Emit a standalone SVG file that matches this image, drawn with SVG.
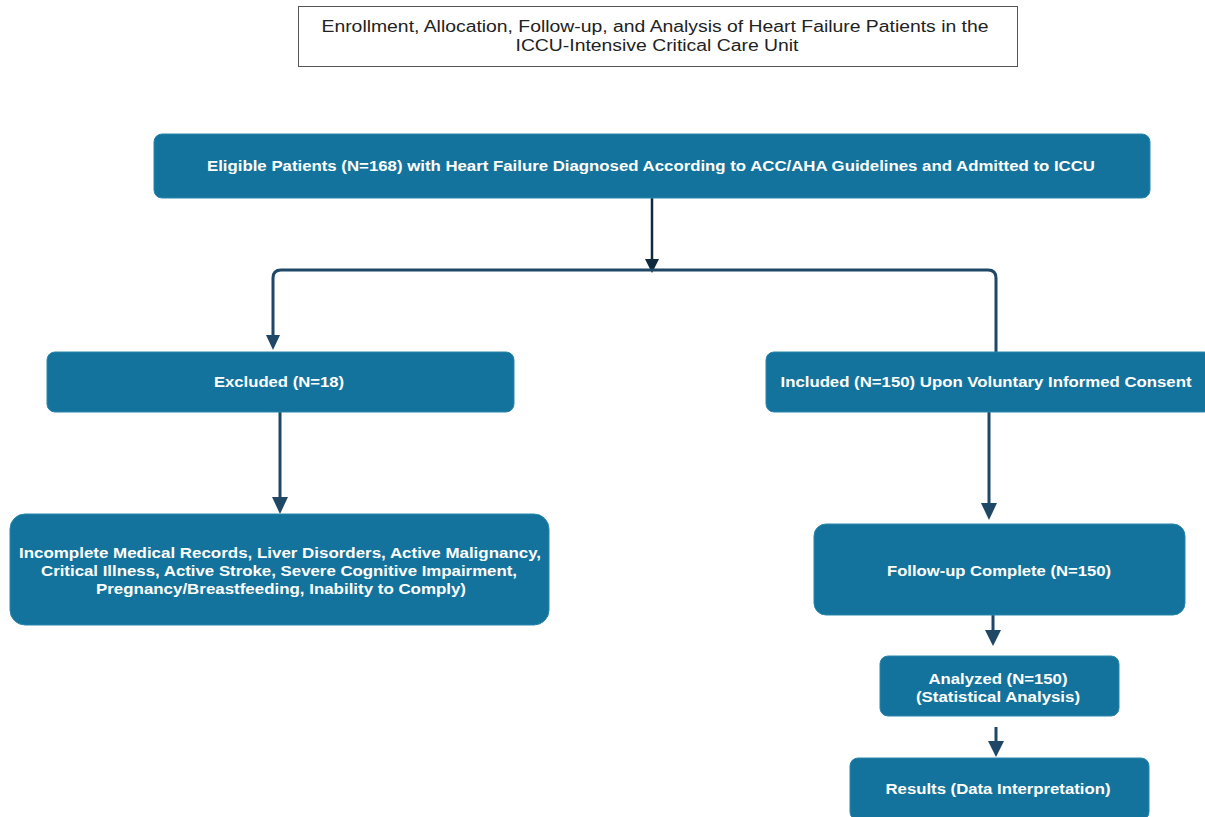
<svg xmlns="http://www.w3.org/2000/svg" width="1205" height="817" viewBox="0 0 1205 817">
<style>
.box{fill:#13739c;stroke:#2a86ad;stroke-width:1}
.t{font-family:"Liberation Sans",Arial,sans-serif;font-weight:bold;font-size:14.5px;fill:#ffffff;text-anchor:middle}
.tt{font-family:"Liberation Sans",Arial,sans-serif;font-weight:bold;font-size:14px;fill:#ffffff;text-anchor:middle}
.title{font-family:"Liberation Sans",Arial,sans-serif;font-size:16px;fill:#222222;text-anchor:middle}
.c{fill:none;stroke:#1f4866;stroke-width:3}
.ah{fill:#1f4866}
</style>
<rect width="1205" height="817" fill="#ffffff"/>
<g id="title">
<rect x="298.5" y="6.5" width="719" height="60" fill="#ffffff" stroke="#555555" stroke-width="1"/>
<text class="title" x="655" y="32" textLength="667" lengthAdjust="spacingAndGlyphs">Enrollment, Allocation, Follow-up, and Analysis of Heart Failure Patients in the</text>
<text class="title" x="657" y="51" textLength="283" lengthAdjust="spacingAndGlyphs">ICCU-Intensive Critical Care Unit</text>
</g>
<g id="connectors">
<line x1="652" y1="198" x2="652" y2="260" stroke="#0f2a3d" stroke-width="2.5"/>
<polygon points="645,259 659,259 652,273" fill="#0f2a3d"/>
<path class="c" d="M273,338 V278 Q273,270 281,270 H988 Q996,270 996,278 V352"/>
<polygon class="ah" points="266,335 280,335 273,350"/>
<line class="c" x1="280" y1="412" x2="280" y2="500"/>
<polygon class="ah" points="272,497 288,497 280,514"/>
<line class="c" x1="989" y1="412" x2="989" y2="506"/>
<polygon class="ah" points="981,503 997,503 989,520"/>
<line class="c" x1="993" y1="615" x2="993" y2="633"/>
<polygon class="ah" points="985,630 1001,630 993,646"/>
<line class="c" x1="996" y1="727" x2="996" y2="744"/>
<polygon class="ah" points="988,741 1004,741 996,757"/>
</g>
<g id="eligible">
<rect class="box" x="154" y="134" width="996" height="64" rx="8"/>
<text class="tt" x="651" y="171" textLength="888" lengthAdjust="spacingAndGlyphs">Eligible Patients (N=168) with Heart Failure Diagnosed According to ACC/AHA Guidelines and Admitted to ICCU</text>
</g>
<g id="excluded">
<rect class="box" x="47" y="352" width="467" height="60" rx="8"/>
<text class="t" x="279" y="387" textLength="130" lengthAdjust="spacingAndGlyphs">Excluded (N=18)</text>
</g>
<g id="included">
<rect class="box" x="766" y="352" width="446" height="60" rx="8"/>
<text class="t" x="986" y="387" textLength="411" lengthAdjust="spacingAndGlyphs">Included (N=150) Upon Voluntary Informed Consent</text>
</g>
<g id="exclusion-reasons">
<rect class="box" x="10" y="514" width="539" height="111" rx="15"/>
<text class="t" x="280" y="558" textLength="522" lengthAdjust="spacingAndGlyphs">Incomplete Medical Records, Liver Disorders, Active Malignancy,</text>
<text class="t" x="279" y="576" textLength="476" lengthAdjust="spacingAndGlyphs">Critical Illness, Active Stroke, Severe Cognitive Impairment,</text>
<text class="t" x="281" y="594" textLength="370" lengthAdjust="spacingAndGlyphs">Pregnancy/Breastfeeding, Inability to Comply)</text>
</g>
<g id="followup">
<rect class="box" x="814" y="524" width="371" height="91" rx="12"/>
<text class="t" x="999" y="576" textLength="224" lengthAdjust="spacingAndGlyphs">Follow-up Complete (N=150)</text>
</g>
<g id="analyzed">
<rect class="box" x="880" y="656" width="239" height="60" rx="8"/>
<text class="t" x="998" y="684" textLength="139" lengthAdjust="spacingAndGlyphs">Analyzed (N=150)</text>
<text class="t" x="998" y="702" textLength="164" lengthAdjust="spacingAndGlyphs">(Statistical Analysis)</text>
</g>
<g id="results">
<rect class="box" x="850" y="758" width="299" height="62" rx="8"/>
<text class="t" x="998" y="794" textLength="225" lengthAdjust="spacingAndGlyphs">Results (Data Interpretation)</text>
</g>
</svg>
